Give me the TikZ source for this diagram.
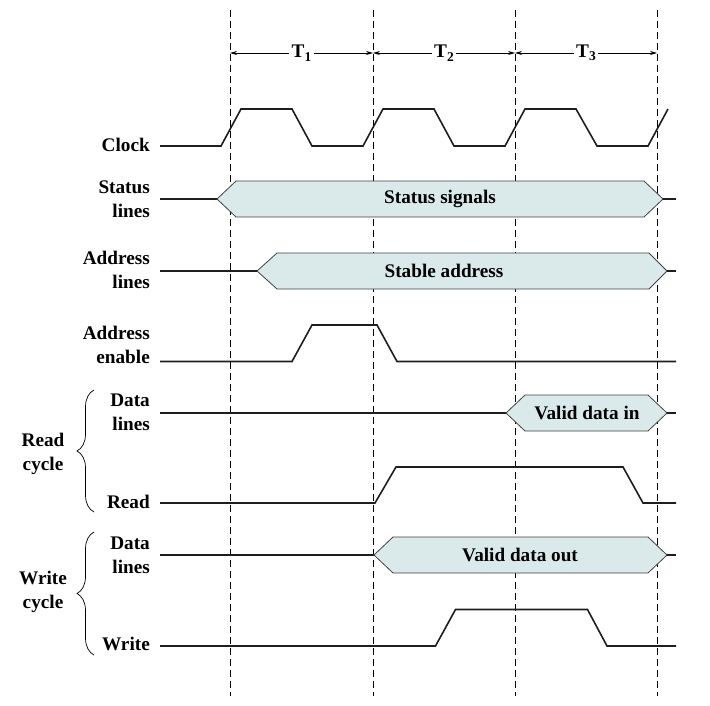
\documentclass[tikz,border=0pt]{standalone}
\usepackage{fontspec}
\setmainfont{Liberation Serif}
\usetikzlibrary{arrows.meta,decorations.pathreplacing}
\definecolor{hexfill}{RGB}{218,234,234}
\definecolor{sig}{RGB}{30,30,30}
\newcommand{\tsub}[1]{\textbf{T}\raisebox{-3.5bp}{\fontsize{13.5}{14}\selectfont\textbf{#1}}}
\begin{document}
\begin{tikzpicture}[x=1bp,y=-1bp,
  sigline/.style={line width=1.6bp, draw=sig, line join=miter},
  hexbox/.style={fill=hexfill, draw=black!75, line width=0.8bp},
  guide/.style={draw=black, line width=0.7bp, dash pattern=on 7bp off 4bp},
  tarrow/.style={draw=black, line width=0.7bp, {Stealth[length=7bp,width=4bp]}-{Stealth[length=7bp,width=4bp]}},
  lab/.style={font=\fontsize{19.3}{24}\selectfont\bfseries, inner sep=0pt, anchor=base east},
  clab/.style={font=\fontsize{19.3}{24}\selectfont\bfseries, inner sep=0pt, anchor=base},
  hextext/.style={font=\fontsize{19.3}{24}\selectfont\bfseries, inner sep=0pt},
  tlab/.style={font=\fontsize{19.3}{24}\selectfont, fill=white, inner sep=2.5bp},
  bracestyle/.style={draw=black, line width=0.7bp, decorate, decoration={brace, amplitude=17bp}}]
\useasboundingbox (0,0) rectangle (710,706);

% guide lines
\foreach \i/\x in {1/230,2/373,3/515,4/657}{
  \coordinate (g\i t) at (\x,10);
  \coordinate (g\i b) at (\x,696);
  \coordinate (g\i a) at (\x,53);
  \draw[guide] (g\i t) -- (g\i b);
}
% period arrows
\draw[tarrow] (g1a) -- node[tlab] (t1) {\tsub{1}} (g2a);
\draw[tarrow] (g2a) -- node[tlab] (t2) {\tsub{2}} (g3a);
\draw[tarrow] (g3a) -- node[tlab] (t3) {\tsub{3}} (g4a);

% labels
\node[lab] (lclk) at (150,151.5) {Clock};
\node[lab] (lst1) at (150,193.5) {Status};
\node[lab] (lst2) at (150,217.5) {lines};
\node[lab] (lad1) at (150,264.5) {Address};
\node[lab] (lad2) at (150,288.5) {lines};
\node[lab] (lae1) at (150,339.5) {Address};
\node[lab] (lae2) at (150,363.5) {enable};
\node[lab] (lrd1) at (150,406.5) {Data};
\node[lab] (lrd2) at (150,430.5) {lines};
\node[lab] (lrd)  at (150,508.5) {Read};
\node[lab] (lwd1) at (150,549.5) {Data};
\node[lab] (lwd2) at (150,573.5) {lines};
\node[lab] (lwr)  at (150,650.5) {Write};
\node[clab] (rc1) at (43,446.5) {Read};
\node[clab] (rc2) at (43,470.5) {cycle};
\node[clab] (wc1) at (43,584.5) {Write};
\node[clab] (wc2) at (43,608.5) {cycle};

% braces
\coordinate (rbb) at (94,512);
\coordinate (rbt) at (94,390);
\coordinate (wbb) at (94,655);
\coordinate (wbt) at (94,532);
\draw[bracestyle] (rbb) -- (rbt);
\draw[bracestyle] (wbb) -- (wbt);

% clock
\draw[sigline] (160,146) -- (221,146) -- (241,109) -- (292,109) -- (312,146) -- (363,146)
  -- (383,109) -- (434,109) -- (454,146) -- (505,146) -- (525,109) -- (576,109)
  -- (597,146) -- (648,146) -- (668,109);

% status lines
\draw[sigline] (160,199) -- (217,199);
\draw[hexbox] (217,199) -- (236,181) -- (644,181) -- (663,199) -- (644,217) -- (236,217) -- cycle;
\draw[sigline] (663,199) -- (676,199);
\node[hextext] (hst) at (440,199) {Status signals};

% address lines
\draw[sigline] (160,271) -- (257,271);
\draw[hexbox] (257,271) -- (277,253) -- (649,253) -- (667,271) -- (649,289) -- (277,289) -- cycle;
\draw[sigline] (667,271) -- (676,271);
\node[hextext] (had) at (444,271) {Stable address};

% address enable
\draw[sigline] (160,361.5) -- (292,361.5) -- (312,325) -- (377,325) -- (397,361.5) -- (676,361.5);

% read data lines
\draw[sigline] (160,413) -- (506,413);
\draw[hexbox] (506,413) -- (525,395) -- (648,395) -- (667,413) -- (648,431) -- (525,431) -- cycle;
\draw[sigline] (667,413) -- (676,413);
\node[hextext] (hrd) at (587,413) {Valid data in};

% read
\draw[sigline] (160,503) -- (375,503) -- (396,467) -- (623,467) -- (643,503) -- (676,503);

% write data lines
\draw[sigline] (160,555) -- (374,555);
\draw[hexbox] (374,555) -- (393,537) -- (648,537) -- (667,555) -- (648,573) -- (393,573) -- cycle;
\draw[sigline] (667,555) -- (676,555);
\node[hextext] (hwd) at (520,555) {Valid data out};

% write
\draw[sigline] (160,646) -- (435.5,646) -- (455.5,609.5) -- (587.5,609.5) -- (607,646) -- (676,646);
\end{tikzpicture}
\end{document}
